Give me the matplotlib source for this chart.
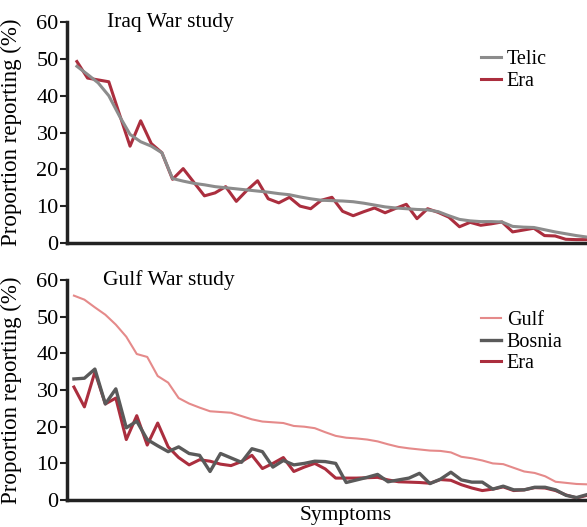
import matplotlib
matplotlib.use("Agg")
import matplotlib.pyplot as plt

# Iraq War study (49 symptoms, sorted by Telic prevalence)
telic = [48, 45.8, 43.5, 40, 34.5, 29.5, 27.5, 26.3, 24.5, 17.5,
         16.8, 16.2, 15.8, 15.3, 15, 14.7, 14.4, 14.1, 13.8, 13.4,
         13.1, 12.5, 12, 11.6, 11.5, 11.4, 11.2, 10.8, 10.3, 9.8,
         9.5, 9.3, 9.1, 9, 8.5, 7.4, 6.4, 6, 5.8, 5.8,
         5.7, 4.5, 4.3, 4.2, 3.6, 3, 2.5, 2, 1.6]
iraq_era = [49.3, 44.8, 44.3, 43.8, 35, 26.3, 33.2, 27, 24.5, 17.3,
            20.2, 16.5, 12.8, 13.6, 15.3, 11.3, 14.3, 16.9, 12, 10.9,
            12.4, 10, 9.3, 11.6, 12.4, 8.6, 7.4, 8.5, 9.5, 8.2,
            9.4, 10.5, 6.6, 9.3, 8.3, 7, 4.4, 5.6, 4.8, 5.2,
            5.7, 3, 3.5, 4, 2, 1.9, 1, 0.9, 0.9]

# Gulf War study (50 symptoms, sorted by Gulf prevalence)
gulf = [55.7, 54.6, 52.5, 50.5, 47.8, 44.5, 39.8, 39, 33.8, 32,
        27.8, 26.3, 25.2, 24.2, 24, 23.8, 22.9, 22, 21.4, 21.2,
        21, 20.2, 20, 19.6, 18.5, 17.5, 17, 16.8, 16.5, 16,
        15.2, 14.5, 14.1, 13.8, 13.5, 13.4, 13, 11.8, 11.4, 10.8,
        10, 9.8, 8.8, 7.8, 7.4, 6.5, 5, 4.7, 4.4, 4.3]
bosnia = [33, 33.2, 35.7, 26.2, 30.3, 19.7, 21.5, 16.5, 14.8, 13.2,
          14.5, 12.7, 12.2, 7.8, 12.7, 11.5, 10.3, 14, 13.2, 9,
          10.8, 9.6, 10, 10.6, 10.5, 10, 4.8, 5.5, 6.2, 7,
          5, 5.5, 6, 7.3, 4.5, 5.7, 7.6, 5.5, 4.9, 4.9,
          3, 3.8, 2.8, 2.8, 3.5, 3.5, 2.8, 1.3, 0.7, 1.5]
gulf_era = [30.8, 25.4, 34.9, 26.2, 27.8, 16.5, 23, 15, 21, 14.5,
            11.6, 9.6, 11, 10.6, 9.8, 9.4, 10.5, 12.2, 8.6, 10,
            11.6, 7.8, 9, 10, 8.5, 6, 6, 6, 6.1, 6.2,
            5.5, 5, 4.9, 4.8, 4.6, 5.6, 5.4, 4.2, 3.3, 2.6,
            3, 3.6, 2.6, 2.8, 3.4, 3.3, 2.6, 1.4, 0.6, 1.3]

yticks = [0, 10, 20, 30, 40, 50, 60]

plt.rcParams["font.family"] = ["Liberation Serif", "DejaVu Serif"]
plt.rcParams["font.size"] = 14

fig = plt.figure(figsize=(5.87, 5.27), dpi=100)
ax1 = fig.add_axes([0.114, 0.539, 0.886, 0.419])
ax2 = fig.add_axes([0.114, 0.051, 0.886, 0.418])

era_red = "#ab2e3e"

ax1.plot(range(len(telic)), telic, color="#8c8c8c", lw=2.2, label="Telic")
ax1.plot(range(len(iraq_era)), iraq_era, color=era_red, lw=2.2, label="Era", zorder=1)
ax1.set_xlim(-0.94, len(telic) - 1)
ax1.text(0.077, 1.0, "Iraq War study", transform=ax1.transAxes, va="center", fontsize=15.5)

ax2.plot(range(len(gulf)), gulf, color="#e58a8a", lw=1.5, label="Gulf")
ax2.plot(range(len(bosnia)), bosnia, color="#5a5a5a", lw=2.4, label="Bosnia", zorder=3)
ax2.plot(range(len(gulf_era)), gulf_era, color=era_red, lw=2.2, label="Era", zorder=2)
ax2.set_xlim(-0.67, len(gulf) - 1)
ax2.text(0.07, 1.0, "Gulf War study", transform=ax2.transAxes, va="center", fontsize=15.5)
ax2.set_xlabel("Symptoms", fontsize=15.5)
ax2.xaxis.set_label_coords(0.536, -0.028)

for ax in (ax1, ax2):
    ax.set_ylim(0, 60)
    ax.set_yticks(yticks)
    ax.set_xticks([])
    ax.spines["top"].set_visible(False)
    ax.spines["right"].set_visible(False)
    ax.spines["left"].set_linewidth(2.5)
    ax.spines["bottom"].set_linewidth(2.5)
    ax.spines["left"].set_color("#222222")
    ax.spines["bottom"].set_color("#222222")
    ax.tick_params(axis="y", length=5, width=1.5, pad=1, labelsize=16, color="#222222")
    ax.set_ylabel("Proportion reporting (%)", fontsize=16.5)
    ax.yaxis.set_label_coords(-0.087, 0.5)

ax1.legend(loc="upper left", bbox_to_anchor=(0.78, 0.91), frameon=False,
           handlelength=1.0, handletextpad=0.3, labelspacing=0.12,
           fontsize=14.5, borderaxespad=0)
ax2.legend(loc="upper left", bbox_to_anchor=(0.78, 0.895), frameon=False,
           handlelength=1.0, handletextpad=0.3, labelspacing=0.12,
           fontsize=14.5, borderaxespad=0)

fig.savefig("out.png", dpi=100)
